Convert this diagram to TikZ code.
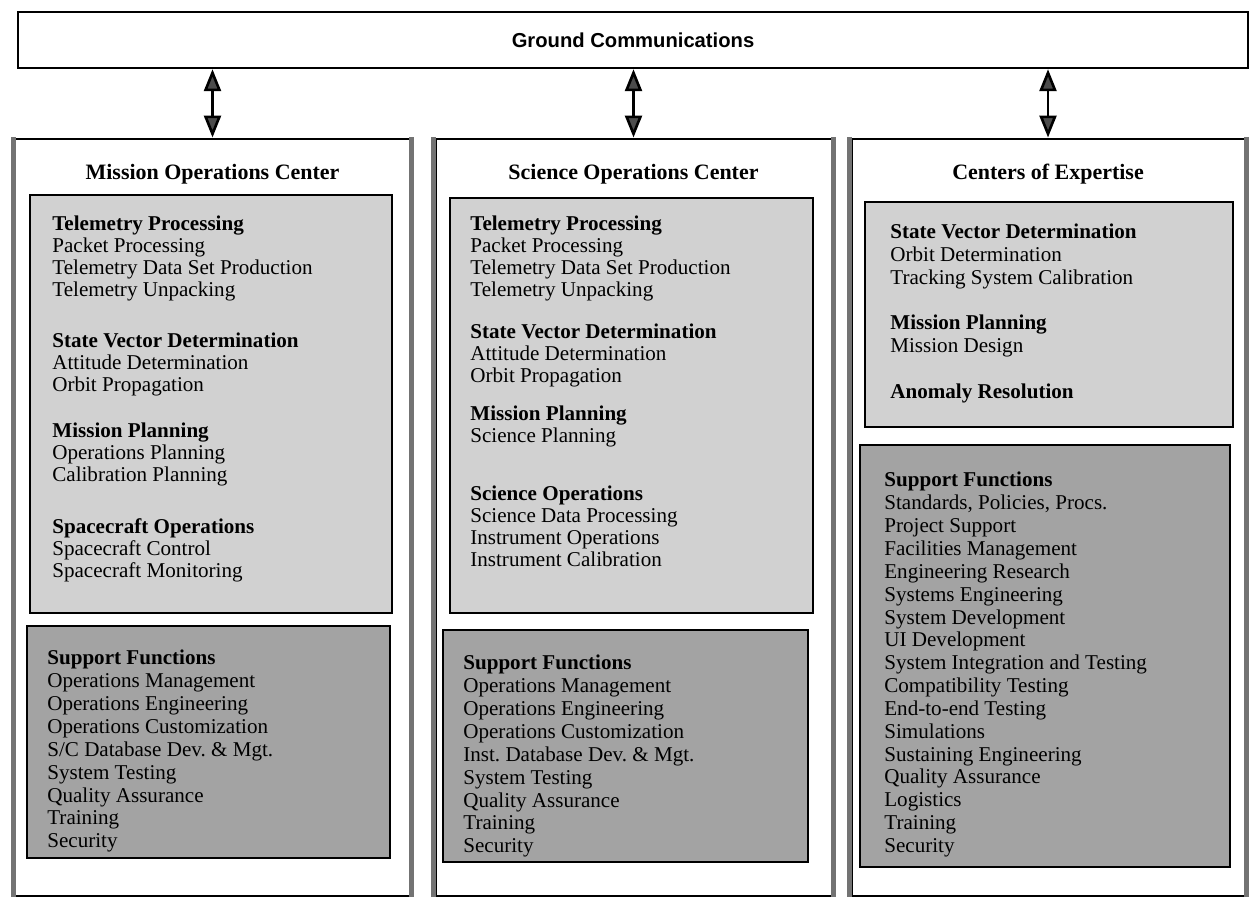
\documentclass[tikz,border=0pt]{standalone}
\usepackage{fontspec}
\setmainfont{Liberation Serif}
\setsansfont{Liberation Sans}
\usetikzlibrary{arrows.meta,fit,positioning}

\begin{document}
\begin{tikzpicture}[x=0.02cm, y=-0.02cm,
    outerbox/.style={draw, line width=1.7pt, inner sep=0pt},
    sideline/.style={draw=black!55, line width=2.6pt},
    funbox/.style={draw, line width=1.2pt, fill=black!18, inner sep=0pt},
    supbox/.style={draw, line width=1.2pt, fill=black!36, inner sep=0pt},
    boxtitle/.style={font=\fontsize{12.5}{14}\selectfont\bfseries, inner sep=0pt},
    listtext/.style={anchor=north west, align=left, inner sep=0pt, font=\fontsize{12}{12.5}\selectfont},
    suplist/.style={listtext, font=\fontsize{12}{13}\selectfont},
    biarrow/.style={line width=1.5pt, {Triangle[length=0.44cm, width=0.34cm, fill=black!70]}-{Triangle[length=0.44cm, width=0.34cm, fill=black!70]}}]
    \useasboundingbox (0,0) rectangle (1250,901);

    % Ground communications bar
    \node[draw, line width=1.4pt, inner sep=0pt, fit={(18,12) (1248,68)}] (gc) {};
    \node[font=\sffamily\bfseries\fontsize{11.5}{13}\selectfont] (gctext) at (gc.center) {Ground Communications};

    % Three centers
    \node[outerbox, fit={(15,139) (410,896)}] (moc) {};
    \node[outerbox, fit={(435,139) (832,896)}] (soc) {};
    \node[outerbox, fit={(851,139) (1245,896)}] (coe) {};
    \foreach \c in {moc,soc,coe} {
        \draw[sideline] (\c.north west) -- (\c.south west);
        \draw[sideline] (\c.north east) -- (\c.south east);
    }

    \node[boxtitle, below=0.52cm of moc.north] (moctitle) {Mission Operations Center};
    \node[boxtitle, below=0.52cm of soc.north] (soctitle) {Science Operations Center};
    \node[boxtitle, below=0.52cm of coe.north] (coetitle) {Centers of Expertise};

    % Inner boxes
    \node[funbox, fit={(30,195) (392,613)}] (mocfun) {};
    \node[supbox, fit={(27,626) (390,858)}] (mocsup) {};
    \node[funbox, fit={(450,198) (813,613)}] (socfun) {};
    \node[supbox, fit={(443,630) (808,862)}] (socsup) {};
    \node[funbox, fit={(865,202) (1233,427)}] (coefun) {};
    \node[supbox, fit={(860,445) (1230,867)}] (coesup) {};

    % Mission Operations Center
    \node[listtext] (moctlm) at (52,216) {\textbf{Telemetry Processing}\\Packet Processing\\Telemetry Data Set Production\\Telemetry Unpacking};
    \node[listtext] (mocsvd) at (52,333) {\textbf{State Vector Determination}\\Attitude Determination\\Orbit Propagation};
    \node[listtext] (mocpln) at (52,423) {\textbf{Mission Planning}\\Operations Planning\\Calibration Planning};
    \node[listtext] (mocsco) at (52,518) {\textbf{Spacecraft Operations}\\Spacecraft Control\\Spacecraft Monitoring};
    \node[suplist] (mocsfn) at (47,650) {\textbf{Support Functions}\\Operations Management\\Operations Engineering\\Operations Customization\\S/C Database Dev.\ \& Mgt.\\System Testing\\Quality Assurance\\Training\\Security};

    % Science Operations Center
    \node[listtext] (soctlm) at (470,216) {\textbf{Telemetry Processing}\\Packet Processing\\Telemetry Data Set Production\\Telemetry Unpacking};
    \node[listtext] (socsvd) at (470,324) {\textbf{State Vector Determination}\\Attitude Determination\\Orbit Propagation};
    \node[listtext] (socpln) at (470,406) {\textbf{Mission Planning}\\Science Planning};
    \node[listtext] (socsco) at (470,486) {\textbf{Science Operations}\\Science Data Processing\\Instrument Operations\\Instrument Calibration};
    \node[suplist] (socsfn) at (463,655) {\textbf{Support Functions}\\Operations Management\\Operations Engineering\\Operations Customization\\Inst.\ Database Dev.\ \& Mgt.\\System Testing\\Quality Assurance\\Training\\Security};

    % Centers of Expertise
    \node[suplist] (coesvd) at (890,224) {\textbf{State Vector Determination}\\Orbit Determination\\Tracking System Calibration};
    \node[suplist] (coepln) at (890,315) {\textbf{Mission Planning}\\Mission Design};
    \node[suplist] (coeanm) at (890,384) {\textbf{Anomaly Resolution}};
    \node[suplist] (coesfn) at (884,472) {\textbf{Support Functions}\\Standards, Policies, Procs.\\Project Support\\Facilities Management\\Engineering Research\\Systems Engineering\\System Development\\UI Development\\System Integration and Testing\\Compatibility Testing\\End-to-end Testing\\Simulations\\Sustaining Engineering\\Quality Assurance\\Logistics\\Training\\Security};

    % Links to ground communications
    \foreach \c in {moc,soc,coe}
        \draw[biarrow] (gc.south -| \c.north) -- (\c.north);
\end{tikzpicture}
\end{document}
